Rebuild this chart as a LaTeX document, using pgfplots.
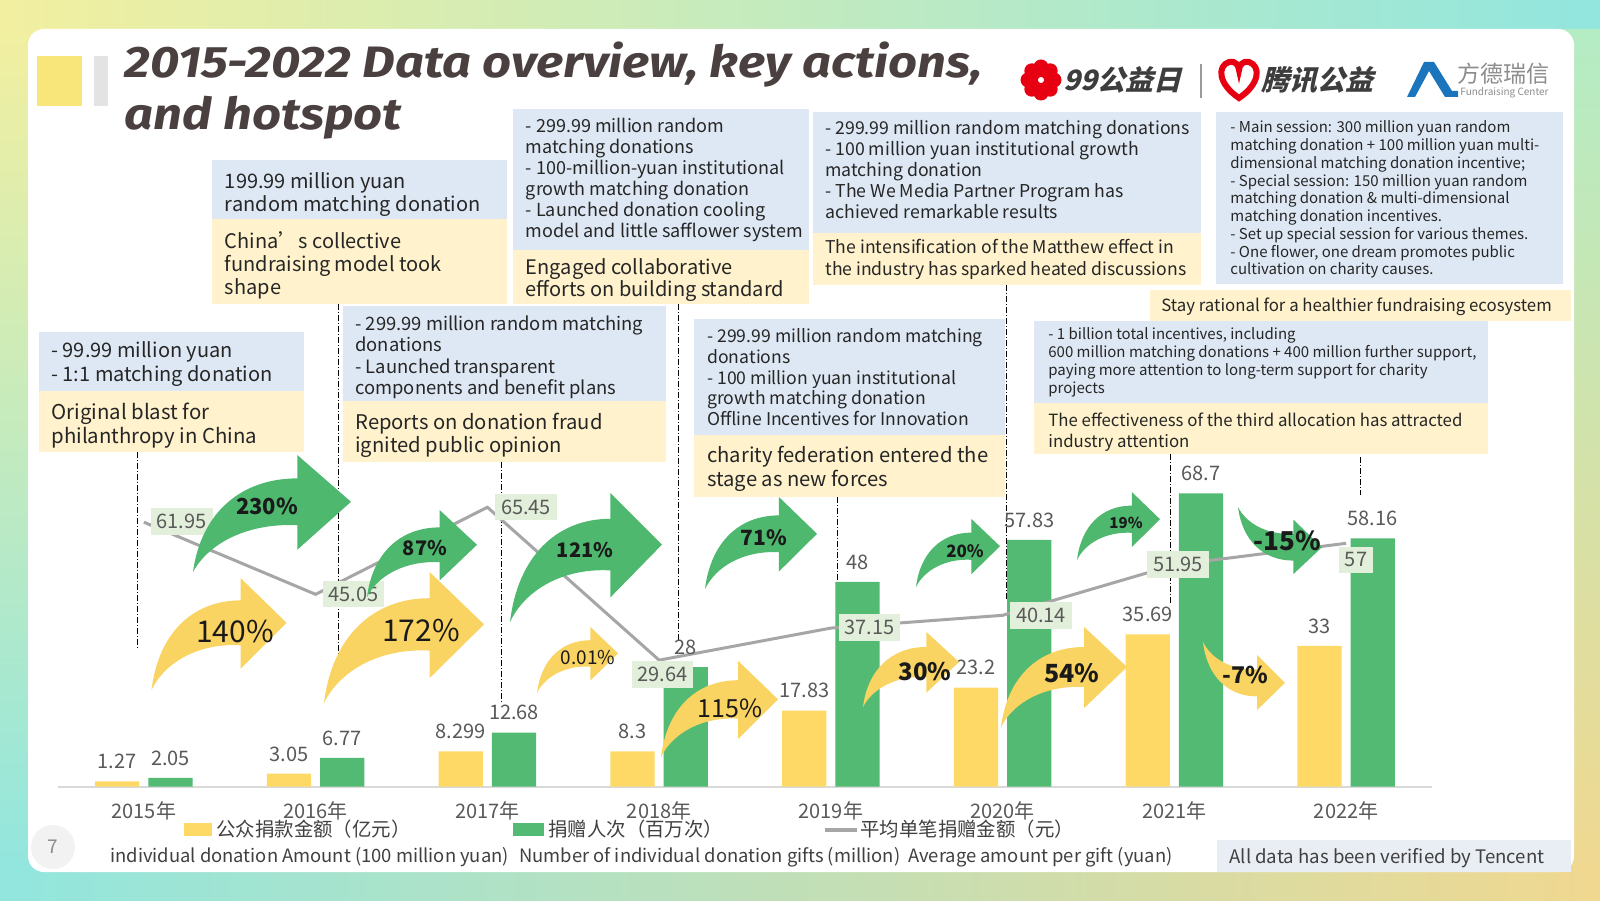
\documentclass[border=0pt]{standalone}
\usepackage{pgfplots}
\pgfplotsset{compat=1.18}
\usepackage{pgfplotstable}
\usepackage{graphicx}
\usepackage{fontspec}
\setmainfont{Noto Sans CJK SC}
\newfontfamily\titlefont{Fira Sans}
\definecolor{barY}{HTML}{FFD966}
\definecolor{barG}{HTML}{52BA72}
\definecolor{arrG}{HTML}{4DB86E}
\definecolor{arrY}{HTML}{FAD463}
\definecolor{boxB}{HTML}{DEE8F4}
\definecolor{boxY}{HTML}{FFF2CC}
\definecolor{lblG}{HTML}{E2EFDA}
\definecolor{valgray}{HTML}{595959}
\definecolor{linegray}{HTML}{A6A6A6}
\definecolor{titlec}{HTML}{4A4040}
\definecolor{txt}{HTML}{262626}
\definecolor{bgY}{HTML}{F2EFA0}
\definecolor{bgC}{HTML}{92E6DE}
\definecolor{bgG}{HTML}{B4ECC4}
\definecolor{bgO}{HTML}{F0D890}
\definecolor{logoR}{HTML}{E60012}
\definecolor{logoB}{HTML}{1A75BC}
\definecolor{sqY}{HTML}{F9E67A}
\definecolor{sqG}{HTML}{E3E3E3}
\definecolor{logoT}{HTML}{3D3D3D}
\definecolor{sepG}{HTML}{9A9A9A}
\definecolor{lgray}{HTML}{8C8C8C}
\definecolor{legT}{HTML}{404040}
\definecolor{footB}{HTML}{E9EEF5}
\definecolor{pgC}{HTML}{F2F2F2}
\definecolor{axG}{HTML}{D9D9D9}
\definecolor{pctT}{HTML}{1A1A1A}

\pgfplotstableread{
x y label
0 1.27 1.27
1 3.05 3.05
2 8.299 8.299
3 8.3 8.3
4 17.83 17.83
5 23.2 23.2
6 35.69 35.69
7 33 33
}\amount
\pgfplotstableread{
x y label
0 2.05 2.05
1 6.77 6.77
2 12.68 12.68
3 28 28
4 48 48
5 57.83 57.83
6 68.7 68.7
7 58.16 58.16
}\gifts
\pgfplotstableread{
x y
0 61.95
1 45.05
2 65.45
3 29.64
4 37.15
5 40.14
6 51.95
7 57
}\avg

\tikzset{px/.style={shift={(0,450pt)},x=0.5pt,y=-0.5pt}}
% x, first baseline, spacing, font pt, lines
\newcommand{\mlines}[5]{\foreach \t [count=\i from 0] in {#5} {\node[anchor=base west, inner sep=0pt, font=\fontsize{#4}{#4}\selectfont, text=txt] at (#1,{#2+\i*#3}) {\t};}}
% color, tail x, tail y, width, signed height (negative = upward)
\newcommand{\carrow}[5]{\begin{scope}[shift={(#2,#3)},xscale=#4,yscale=#5]
\fill[#1] (0,0) .. controls (0.05,0.5) and (0.3,0.8) .. (0.66,0.80) -- (0.66,1) -- (1,0.6) -- (0.66,0.19) -- (0.66,0.40) .. controls (0.35,0.42) and (0.1,0.25) .. (0,0) -- cycle;
\end{scope}}
\newlength\tw

\begin{document}%
\settowidth{\tw}{\titlefont\bfseries\itshape\fontsize{22}{26}\selectfont 2015-2022 Data overview, key actions,}%
\pgfmathsetmacro\tsx{429/\tw}%
\begin{tikzpicture}
\begin{scope}[px]
\useasboundingbox (0,0) rectangle (1600,900);
% background
\shade[left color=bgY, middle color=bgG, right color=bgC] (0,0) rectangle (1600,40);
\shade[left color=bgC, middle color=bgG!60!bgY, right color=bgO] (0,860) rectangle (1600,900);
\shade[top color=bgY, bottom color=bgC] (0,30) rectangle (40,872);
\shade[top color=bgG, bottom color=bgO] (1560,30) rectangle (1600,872);
\fill[white, rounded corners=8] (28,29) rectangle (1574,872);
% title
\fill[sqY] (37,56) rectangle (82,106);
\fill[sqG] (94,56) rectangle (108,106);
\node[anchor=base west, inner sep=0pt, text=titlec] at (124,77.3) {\scalebox{\tsx}[1]{\titlefont\bfseries\itshape\fontsize{22}{26}\selectfont 2015-2022 Data overview, key actions,}};
\node[anchor=base west, inner sep=0pt, text=titlec] at (124,130) {\scalebox{\tsx}[1]{\titlefont\bfseries\itshape\fontsize{22}{26}\selectfont and hotspot}};
% logos
\foreach \a in {0,45,...,315} {\fill[logoR] ({1041+13*cos(\a)},{80+13*sin(\a)}) circle (7.5);}
\fill[logoR] (1041,80) circle (10);
\fill[white] (1041,80) circle (3);
\node[anchor=west, inner sep=0pt, text=logoT, font=\fontsize{14}{14}\selectfont\bfseries, xslant=0.25, transform shape] at (1066,80) {99公益日};
\draw[sepG, line width=1pt] (1201,64) -- (1201,98);
\draw[logoR, line width=3pt] (1239,98) .. controls (1218,84) and (1217,66) .. (1229,62) .. controls (1235,60) and (1239,66) .. (1239,70) .. controls (1239,66) and (1243,60) .. (1249,62) .. controls (1261,66) and (1260,84) .. (1239,98) -- cycle;
\node[anchor=west, inner sep=0pt, text=logoT, font=\fontsize{14}{14}\selectfont\bfseries, xslant=0.25, transform shape] at (1264,80) {腾讯公益};
\fill[logoB] (1407,97) -- (1424,62) -- (1434,62) -- (1452,91) -- (1458,91) -- (1458,97) -- (1445,97) -- (1429,71) -- (1415,97) -- cycle;
\node[anchor=west, inner sep=0pt, text=lgray, font=\fontsize{11.5}{11.5}\selectfont] at (1457,74) {方德瑞信};
\node[anchor=west, inner sep=0pt, text=lgray, font=\fontsize{5}{5}\selectfont] at (1460,93) {Fundraising Center};
% boxes
\fill[boxB] (39,332) rectangle (304,391); \fill[boxY] (39,391) rectangle (304,452);
\mlines{51}{358}{23.5}{10}{{- 99.99 million yuan},{- 1:1 matching donation}}
\mlines{51}{419.5}{24.5}{10.2}{{Original blast for},{philanthropy in China}}
\fill[boxB] (212,160) rectangle (507,219.4); \fill[boxY] (212,219.4) rectangle (507,304);
\mlines{224.5}{189}{22.5}{10}{{199.99 million yuan},{random matching donation}}
\mlines{224.5}{249}{23}{10}{{China’s collective},{fundraising model took},{shape}}
\fill[boxB] (343,306) rectangle (666,401); \fill[boxY] (343,401) rectangle (666,462);
\mlines{355}{330.5}{21.4}{9.2}{{- 299.99 million random matching},{donations},{- Launched transparent},{components and benefit plans}}
\mlines{355}{429.5}{23.5}{10.1}{{Reports on donation fraud},{ignited public opinion}}
\fill[boxB] (513,109) rectangle (809,250); \fill[boxY] (513,250) rectangle (809,304);
\mlines{525.5}{132.5}{21}{9}{{- 299.99 million random},{matching donations},{- 100-million-yuan institutional},{growth matching donation},{- Launched donation cooling},{model and little safflower system}}
\mlines{525.5}{274.5}{22.5}{10}{{Engaged collaborative},{efforts on building standard}}
\fill[boxB] (694,319) rectangle (1005,435); \fill[boxY] (694,435) rectangle (1005,497);
\mlines{707}{342.7}{20.7}{8.8}{{- 299.99 million random matching},{donations},{- 100 million yuan institutional},{growth matching donation},{Offline Incentives for Innovation}}
\mlines{707}{463}{23.5}{10.1}{{charity federation entered the},{stage as new forces}}
\fill[boxB] (813,112) rectangle (1201,233); \fill[boxY] (813,233) rectangle (1201,285);
\mlines{825}{134.5}{21}{8.85}{{- 299.99 million random matching donations},{- 100 million yuan institutional growth},{matching donation},{- The We Media Partner Program has},{achieved remarkable results}}
\mlines{825}{254}{21.4}{8.8}{{The intensification of the Matthew effect in},{the industry has sparked heated discussions}}
\fill[boxB] (1216,112) rectangle (1563,284);
\mlines{1230}{133}{17.75}{7.5}{{- Main session: 300 million yuan random},{matching donation + 100 million yuan multi-},{dimensional matching donation incentive;},{- Special session: 150 million yuan random},{matching donation \& multi-dimensional},{matching donation incentives.},{- Set up special session for various themes.},{- One flower, one dream promotes public},{cultivation on charity causes.}}
\fill[boxY] (1150,290) rectangle (1571,321);
\mlines{1161}{312}{0}{8.4}{{Stay rational for a healthier fundraising ecosystem}}
\fill[boxB] (1034,321) rectangle (1488,403); \fill[boxY] (1034,403) rectangle (1488,454);
\mlines{1048}{340}{18}{7.5}{{- 1 billion total incentives, including},{600 million matching donations + 400 million further support,},{paying more attention to long-term support for charity},{projects}}
\mlines{1048}{427}{20.4}{8.4}{{The effectiveness of the third allocation has attracted},{industry attention}}
% dashed guide lines
\begin{scope}[black, line width=0.5pt, dash pattern=on 3pt off 1pt on 0.5pt off 1pt]
\draw (137,452) -- (137,648);
\draw (338,304) -- (338,662);
\draw (501,462) -- (501,703);
\draw (678,304) -- (678,640);
\draw (837,497) -- (837,653);
\draw (1006,285) -- (1006,600);
\draw (1170,454) -- (1170,603);
\draw (1360,457) -- (1360,495);
\end{scope}
% legend
\fill[barY] (184,823) rectangle (212,836);
\node[anchor=base west, inner sep=0pt, font=\fontsize{9.7}{9.7}\selectfont, text=legT] at (216,836.6) {公众捐款金额（亿元）};
\fill[barG] (513,823) rectangle (544,836);
\node[anchor=base west, inner sep=0pt, font=\fontsize{9.7}{9.7}\selectfont, text=legT] at (548,836.6) {捐赠人次（百万次）};
\draw[linegray, line width=2pt] (825,829.6) -- (857,829.6);
\node[anchor=base west, inner sep=0pt, font=\fontsize{9.7}{9.7}\selectfont, text=legT] at (860,836.6) {平均单笔捐赠金额（元）};
\node[anchor=base west, inner sep=0pt, font=\fontsize{9.2}{9.2}\selectfont, text=legT] at (110,862) {individual donation Amount (100 million yuan)};
\node[anchor=base west, inner sep=0pt, font=\fontsize{9.2}{9.2}\selectfont, text=legT] at (519,862) {Number of individual donation gifts (million)};
\node[anchor=base west, inner sep=0pt, font=\fontsize{9.2}{9.2}\selectfont, text=legT] at (908,862) {Average amount per gift (yuan)};
\fill[footB] (1217,840) rectangle (1571,872);
\node[anchor=base west, inner sep=0pt, font=\fontsize{9.3}{9.3}\selectfont, text=legT] at (1229,863) {All data has been verified by Tencent};
\fill[pgC] (53,847) circle (22);
\node[font=\fontsize{9.5}{9.5}\selectfont, text=lgray] at (53,847) {7};
\end{scope}

\begin{axis}[
  at={(29pt,56.65pt)}, anchor=south west,
  scale only axis, width=687pt, height=170.8pt,
  xmin=-0.5, xmax=7.5, ymin=0, ymax=80,
  axis y line=none, axis x line*=bottom,
  x axis line style={-, draw=axG, line width=1pt},
  xtick={0,...,7},
  xticklabels={2015年,2016年,2017年,2018年,2019年,2020年,2021年,2022年},
  major tick length=0pt, ytick=\empty,
  xticklabel style={font=\fontsize{10}{10}\selectfont, text=valgray, inner sep=0pt, anchor=north, yshift=-7.5pt},
  clip=false,
  nodes near coords style={font=\fontsize{10}{10}\selectfont, text=valgray, anchor=south, inner sep=0pt, yshift=6pt},
]
\addplot[ybar, draw=none, fill=barY, bar width=22.15pt, bar shift=-13.3pt, point meta=explicit symbolic, nodes near coords, every node near coord/.append style={xshift=-13.3pt}] table[x=x,y=y,meta=label]{\amount};
\addplot[ybar, draw=none, fill=barG, bar width=22.15pt, bar shift=13.3pt, point meta=explicit symbolic, nodes near coords, every node near coord/.append style={xshift=13.3pt}] table[x=x,y=y,meta=label]{\gifts};
\addplot[draw=linegray, line width=1.5pt, mark=none] table[x=x,y=y]{\avg};
\end{axis}

\begin{scope}[px]
% line labels
\foreach \v/\xx/\yy in {61.95/181.6/521.4, 45.05/353.5/594, 65.45/526/507, 29.64/662.5/674.5, 37.15/869.5/627.7, 40.14/1041/615.3, 51.95/1178/564.7, 57/1356/560}
  {\node[fill=lblG, text=valgray, font=\fontsize{10}{10}\selectfont, inner xsep=3pt, inner ysep=3pt] at (\xx,\yy) {\v};}
% arrows
\carrow{arrG}{193}{572}{158}{-117}
\carrow{arrG}{367}{597}{110}{-87}
\carrow{arrG}{510}{622}{152}{-129}
\carrow{arrG}{705}{589}{112}{-92}
\carrow{arrG}{916}{587}{84}{-68}
\carrow{arrG}{1077}{560}{83}{-68}
\carrow{arrG}{1238}{507}{84}{67}
\carrow{arrY}{151.5}{690}{135}{-112}
\carrow{arrY}{324}{703}{160}{-131}
\carrow{arrY}{537}{693}{81}{-66}
\carrow{arrY}{661}{757}{117}{-96}
\carrow{arrY}{863}{707}{96}{-75}
\carrow{arrY}{1001}{727}{126}{-100}
\carrow{arrY}{1203}{642}{82}{68}
% percentages
\node[font=\fontsize{11}{11}\selectfont\bfseries, text=pctT] at (267,506) {230\%};
\node[font=\fontsize{10}{10}\selectfont\bfseries, text=pctT] at (425,548) {87\%};
\node[font=\fontsize{10}{10}\selectfont\bfseries, text=pctT] at (585,550) {121\%};
\node[font=\fontsize{10.5}{10.5}\selectfont\bfseries, text=pctT] at (764,538) {71\%};
\node[font=\fontsize{8.5}{8.5}\selectfont\bfseries, text=pctT] at (965,551) {20\%};
\node[font=\fontsize{7.5}{7.5}\selectfont\bfseries, text=pctT] at (1126,523) {19\%};
\node[font=\fontsize{13}{13}\selectfont\bfseries, text=pctT] at (1287,541) {-15\%};
\node[font=\fontsize{15}{15}\selectfont, text=pctT] at (235,632) {140\%};
\node[font=\fontsize{15}{15}\selectfont, text=pctT] at (421,631) {172\%};
\node[font=\fontsize{9.5}{9.5}\selectfont, text=pctT] at (588,658) {0.01\%};
\node[font=\fontsize{12.5}{12.5}\selectfont, text=pctT] at (730,708) {115\%};
\node[font=\fontsize{12}{12}\selectfont\bfseries, text=pctT] at (925,672) {30\%};
\node[font=\fontsize{12.5}{12.5}\selectfont\bfseries, text=pctT] at (1072,673) {54\%};
\node[font=\fontsize{11.5}{11.5}\selectfont\bfseries, text=pctT] at (1245,675) {-7\%};
\end{scope}
\end{tikzpicture}
\end{document}
